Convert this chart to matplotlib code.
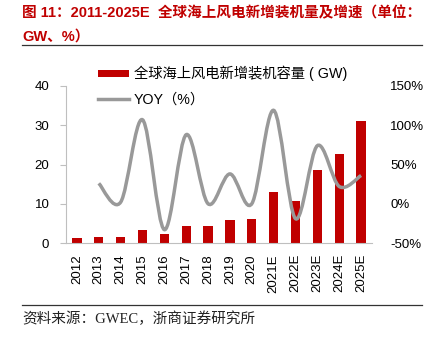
import matplotlib
matplotlib.use("Agg")
import matplotlib.pyplot as plt
from matplotlib.path import Path
from matplotlib.patches import PathPatch, Patch
from matplotlib.lines import Line2D
import numpy as np

plt.rcParams['font.family'] = ['Liberation Sans', 'Noto Sans CJK SC']

years = ['2012', '2013', '2014', '2015', '2016', '2017', '2018', '2019', '2020',
         '2021E', '2022E', '2023E', '2024E', '2025E']
capacity = [1.2, 1.6, 1.6, 3.4, 2.3, 4.3, 4.3, 5.9, 6.0, 13.1, 10.7, 18.6, 22.8, 31.0]
yoy_years = years[1:]
yoy = [26, 2, 107, -33, 88, 0, 38, 0, 119, -19, 74, 22, 36]

RED = '#C00000'
GRAY = '#999999'


def smooth_path(x, y):
    # Catmull-Rom style bezier segments through every point
    pts = np.column_stack([x, y]).astype(float)
    ext = np.vstack([pts[0], pts, pts[-1]])
    verts = [pts[0]]
    codes = [Path.MOVETO]
    for i in range(1, len(ext) - 2):
        p0, p1, p2, p3 = ext[i - 1], ext[i], ext[i + 1], ext[i + 2]
        verts += [p1 + (p2 - p0) / 6, p2 - (p3 - p1) / 6, p2]
        codes += [Path.CURVE4] * 3
    return Path(verts, codes)


fig = plt.figure(figsize=(4.35, 3.37), dpi=100)
ax = fig.add_axes([66 / 435, 1 - 243 / 337, 306 / 435, 157 / 337])

x = np.arange(len(years))
ax.bar(x, capacity, width=0.42, color=RED, zorder=2)
ax.set_xlim(-0.5, len(years) - 0.5)
ax.set_ylim(0, 40)
ax.set_yticks([0, 10, 20, 30, 40])
ax.set_xticks(x)
ax.set_xticklabels(years, rotation=90, fontsize=9.5)
ax.tick_params(axis='x', length=0, pad=8)
ax.tick_params(axis='y', length=4, color='#BFBFBF', labelsize=9.5, pad=8)
for side in ['top', 'right']:
    ax.spines[side].set_visible(False)
ax.spines['left'].set_color('#BFBFBF')
ax.spines['bottom'].set_color('#BFBFBF')

ax2 = ax.twinx()
ax2.set_ylim(-50, 150)
ax2.set_yticks([-50, 0, 50, 100, 150])
ax2.set_yticklabels(['-50%', '0%', '50%', '100%', '150%'])
ax2.tick_params(axis='y', length=0, labelsize=9.5, pad=13)
for side in ['top', 'right', 'left', 'bottom']:
    ax2.spines[side].set_visible(False)

xi = [years.index(y) for y in yoy_years]
ax2.add_patch(PathPatch(smooth_path(xi, yoy), fill=False, edgecolor=GRAY,
                        linewidth=2.5, capstyle='butt', zorder=3))

handles = [Patch(facecolor=RED, edgecolor='none'),
           Line2D([], [], color=GRAY, linewidth=2.5)]
labels = ['全球海上风电新增装机容量 ( GW)', 'YOY（%）']
fig.legend(handles, labels, loc='upper left', bbox_to_anchor=(98 / 435, 1 - 66 / 337),
           frameon=False, fontsize=10.3, handlelength=2.2, handleheight=0.45,
           handletextpad=0.3, labelspacing=0.75, borderpad=0, borderaxespad=0)

# title block
title_kw = dict(color=RED, fontsize=10.5, fontweight='bold', va='center', ha='left')
fig.text(22 / 435, 1 - 13 / 337, '图 11：2011-2025E  全球海上风电新增装机量及增速（单位：', **title_kw)
fig.text(22 / 435, 1 - 37 / 337, 'GW、%）', **title_kw)
fig.add_artist(Line2D([22 / 435, 422 / 435], [1 - 45 / 337, 1 - 45 / 337],
                      color='#333333', linewidth=0.9))

# source note
fig.add_artist(Line2D([22 / 435, 422 / 435], [1 - 305 / 337, 1 - 305 / 337],
                      color='#333333', linewidth=0.9))
fig.text(22 / 435, 1 - 319 / 337, '资料来源：GWEC，浙商证券研究所', fontsize=10.5,
         family=['Liberation Serif', 'Noto Sans CJK SC'], va='center', ha='left', color='#222222')

fig.savefig('out.png', dpi=100)
